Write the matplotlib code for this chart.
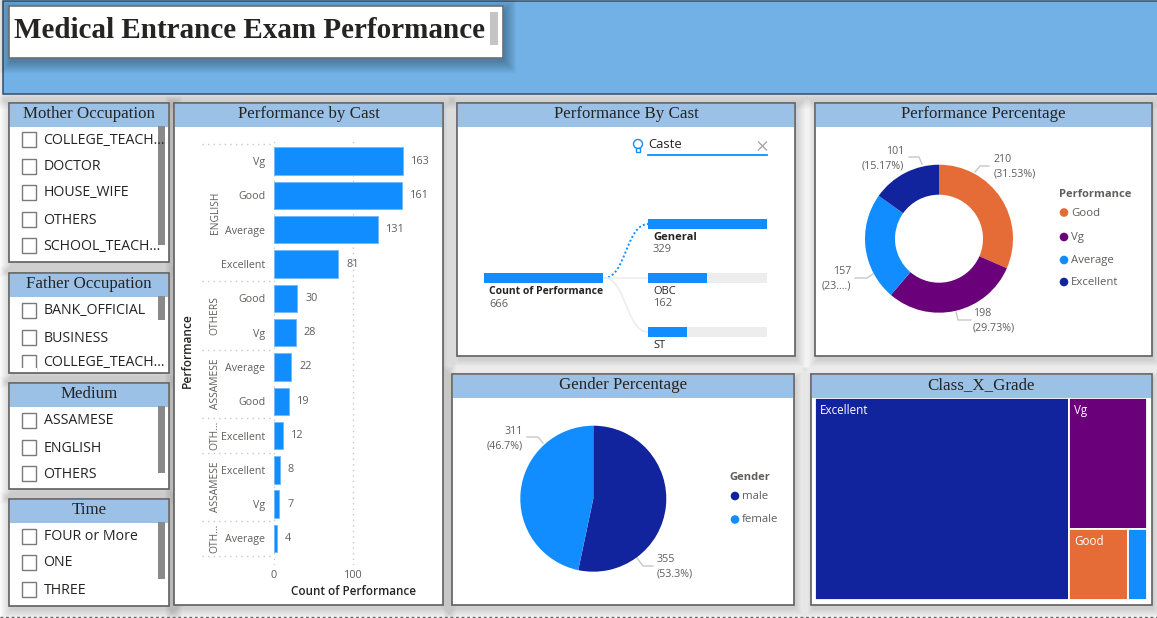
import matplotlib
matplotlib.use('Agg')
import matplotlib.pyplot as plt
from matplotlib.patches import Rectangle, PathPatch, Circle
from matplotlib.path import Path

#####################  data  ####################
bar_labels = ['Vg', 'Good', 'Average', 'Excellent', 'Good', 'Vg', 'Average', 'Good',
              'Excellent', 'Excellent', 'Vg', 'Average']
bar_values = [163, 161, 131, 81, 30, 28, 22, 19, 12, 8, 7, 4]
group_names = ['ENGLISH', 'OTHERS', 'ASSAMESE', 'OTH...', 'ASSAMESE', 'OTH...']
group_sizes = [4, 2, 2, 1, 2, 1]

perf_labels = ['Good', 'Vg', 'Average', 'Excellent']
perf_values = [210, 198, 157, 101]
perf_text = ['(31.53%)', '(29.73%)', '(23....)', '(15.17%)']

gender_labels = ['male', 'female']
gender_values = [355, 311]
gender_text = ['(53.3%)', '(46.7%)']

caste_labels = ['General', 'OBC', 'ST']
caste_values = [329, 162, 108]
caste_shown = ['329', '162', '']
caste_total = 666

# Class_X_Grade, sizes estimated from the tile areas
grade_labels = ['Excellent', 'Vg', 'Good', '']
grade_values = [510, 101, 42, 13]

mother_items = ['COLLEGE_TEACH...', 'DOCTOR', 'HOUSE_WIFE', 'OTHERS', 'SCHOOL_TEACH...']
father_items = ['BANK_OFFICIAL', 'BUSINESS', 'COLLEGE_TEACH...']
medium_items = ['ASSAMESE', 'ENGLISH', 'OTHERS']
time_items = ['FOUR or More', 'ONE', 'THREE']

#####################  style  ####################
BLUE = '#118DFF'
NAVY = '#12239E'
ORANGE = '#E66C37'
PURPLE = '#6B007B'
HEADER = '#9BC2E6'
BANNER = '#71B1E5'
GRAY = '#605E5C'
DARK = '#252423'
EDGE = '#5F5F5F'
SERIF = 'Liberation Serif'
SANS = 'Open Sans'
W, H = 1157, 618

perf_colors = {'Good': ORANGE, 'Vg': PURPLE, 'Average': BLUE, 'Excellent': NAVY}
gender_colors = {'male': NAVY, 'female': BLUE}
grade_colors = [NAVY, PURPLE, ORANGE, BLUE]

fig = plt.figure(figsize=(W / 100, H / 100), dpi=100, facecolor='white')
base = fig.add_axes([0, 0, 1, 1])
base.set_xlim(0, W)
base.set_ylim(H, 0)
base.axis('off')


def px_axes(x0, y0, x1, y1):
    # axes from pixel box, y counted from the top
    a = fig.add_axes([x0 / W, 1 - y1 / H, (x1 - x0) / W, (y1 - y0) / H])
    a.patch.set_alpha(0)
    return a


def shadow(x0, y0, x1, y1, z=1, dark=0.016):
    for i in range(12):
        grow = 11 - i
        base.add_patch(Rectangle((x0 - grow + 2, y0 - grow + 4), x1 - x0 + 2 * grow,
                                 y1 - y0 + 2 * grow, fc='black', ec='none',
                                 alpha=dark, zorder=z))


def panel(x0, y0, x1, y1, title, head=23, size=12.2):
    shadow(x0, y0, x1, y1)
    base.add_patch(Rectangle((x0, y0), x1 - x0, y1 - y0, fc='white', ec=EDGE, lw=1.2, zorder=2))
    base.add_patch(Rectangle((x0 + 1, y0 + 1), x1 - x0 - 2, head, fc=HEADER, ec='none', zorder=2.1))
    base.text((x0 + x1) / 2, y0 + head / 2 - 0.5, title, family=SERIF, fontsize=size, color=DARK,
              ha='center', va='center', zorder=3)


def slicer(y0, y1, title, items, rows, bar_end):
    panel(9, y0, 169, y1, title)
    for item, cy in zip(items, rows):
        base.add_patch(Rectangle((21.5, cy - 7.5), 14.5, 15, fc='white', ec='#7A7A7A', lw=1, zorder=3))
        base.text(43.5, cy + 1, item, family=SANS, fontsize=10.2, color=DARK, ha='left', va='center', zorder=3.2)
    # rows that do not fit are cut off by the panel edge
    base.add_patch(Rectangle((20, y1 - 5), 17, 4, fc='white', ec='none', zorder=3.1))
    base.add_patch(Rectangle((157.5, y0 + 23), 7.5, bar_end - y0 - 23, fc='#8A8A8A', ec='none', zorder=3))


def leader(xs, ys):
    base.plot(xs, ys, color='#C8C8C8', lw=1, zorder=3)


#####################  banner  ####################
shadow(3, 1, 1157, 94, dark=0.012)
base.add_patch(Rectangle((3, 1), 1160, 93, fc=BANNER, ec='#2F4F6F', lw=1.1, zorder=2))
shadow(9, 6, 503, 58, z=2.2, dark=0.022)
base.add_patch(Rectangle((9, 6), 494, 52, fc='white', ec='#6F6F6F', lw=1.2, zorder=3))
base.add_patch(Rectangle((490, 12), 7.5, 33, fc='#C4C4C4', ec='none', zorder=3.1))
base.text(14.5, 30, 'Medical Entrance Exam Performance', family=SERIF, weight='bold', fontsize=21,
          color=DARK, ha='left', va='center', zorder=4)

#####################  slicers  ####################
slicer(103, 262, 'Mother Occupation', mother_items, [139, 166, 192, 219, 245], 245)
slicer(273, 373, 'Father Occupation', father_items, [310, 337, 362], 320)
slicer(383, 489, 'Medium', medium_items, [420, 447, 473], 473)
slicer(499, 606, 'Time', time_items, [536, 562, 589], 579)

#####################  bar chart  ####################
panel(174, 103, 443, 605, 'Performance by Cast')
ax = px_axes(273.5, 137, 433, 565)
ypos = [i + 0.5 for i in range(len(bar_values))]
ax.barh(ypos, bar_values, height=0.8, color=BLUE, edgecolor='#70B8FF', linewidth=0.6, zorder=3)
ax.set_xlim(0, 200)
ax.set_ylim(12.274, -0.204)
ax.set_xticks([0, 100])
ax.set_yticks(ypos)
ax.set_yticklabels(bar_labels, family=SANS, fontsize=7.7, color=GRAY)
ax.tick_params(axis='both', length=0)
ax.tick_params(axis='y', pad=6)
ax.tick_params(axis='x', pad=3.5, labelsize=7.8, labelcolor=GRAY)
for t in ax.get_xticklabels():
    t.set_family(SANS)
ax.xaxis.grid(True, color='#C8C8C8', linestyle=(0, (1, 3)), lw=1)
ax.set_axisbelow(True)
for s in ax.spines.values():
    s.set_visible(False)
ax.set_xlabel('Count of Performance', family=SANS, weight='semibold', fontsize=8.4, color=DARK, labelpad=3)
ax.set_ylabel('Performance', family=SANS, weight='semibold', fontsize=8.6, color=DARK)
ax.yaxis.set_label_coords(-0.5, 0.5)
for y, v in zip(ypos, bar_values):
    ax.text(v + 10, y, str(v), family=SANS, fontsize=7.8, color=GRAY, ha='left', va='center')
# group brackets left of the tick labels
tr = ax.get_yaxis_transform()
start = 0
ax.plot([-0.448, -0.005], [0, 0], transform=tr, color='#C8C8C8', ls=(0, (1, 3)), lw=1, clip_on=False)
for name, n in zip(group_names, group_sizes):
    ax.plot([-0.448, -0.005], [start + n, start + n], transform=tr, color='#C8C8C8', ls=(0, (1, 3)), lw=1, clip_on=False)
    ax.text(-0.366, start + n / 2, name, transform=tr, rotation=90, family=SANS, fontsize=7.4, color=GRAY,
            ha='center', va='center', clip_on=False)
    start += n

#####################  decomposition tree  ####################
panel(457, 103, 795, 356, 'Performance By Cast')
tree = px_axes(457, 103, 795, 356)
tree.set_xlim(457, 795)
tree.set_ylim(356, 103)
tree.axis('off')
scale = 119 / max(caste_values)
tree.barh(278, caste_values[0] * scale, height=9.5, left=484, color=BLUE, zorder=3)
tree.text(489, 291.5, 'Count of Performance', family=SANS, weight='bold', fontsize=7.5, color=DARK, va='center')
tree.text(489, 304.5, str(caste_total), family=SANS, fontsize=8, color=GRAY, va='center')
cy = [224, 278, 332]
for i, (name, val, shown) in enumerate(zip(caste_labels, caste_values, caste_shown)):
    tree.barh(cy[i], 119, height=9.5, left=648, color='#EDEDED', zorder=2)
    tree.barh(cy[i], val * scale, height=9.5, left=648, color=BLUE, zorder=3)
    tree.text(653, cy[i] + 13.5, name, family=SANS, fontsize=8, color=DARK, va='center',
              weight='bold' if i == 0 else 'normal')
    if shown:
        tree.text(653, cy[i] + 26, shown, family=SANS, fontsize=8, color=GRAY, va='center')
    curve = Path([(604, 278), (626, 278), (626, cy[i]), (648, cy[i])],
                 [Path.MOVETO, Path.CURVE4, Path.CURVE4, Path.CURVE4])
    if i == 0:
        tree.add_patch(PathPatch(curve, fc='none', ec=BLUE, lw=1.4, ls=(0, (1, 1.2)), zorder=1))
    else:
        tree.add_patch(PathPatch(curve, fc='none', ec='#EDEDED', lw=1.2, zorder=1))
tree.text(648, 145, 'Caste', family=SANS, fontsize=9.4, color=DARK, va='center')
tree.plot([648, 767], [155, 155], color=BLUE, lw=1.3)
tree.plot([758.5, 766.5], [142, 150], color='#A6A6A6', lw=1)
tree.plot([758.5, 766.5], [150, 142], color='#A6A6A6', lw=1)
tree.add_patch(Circle((638, 144), 4.5, fc='white', ec=BLUE, lw=1))
tree.add_patch(Rectangle((636, 148), 4, 3.5, fc='white', ec=BLUE, lw=1))

#####################  donut  ####################
panel(815, 103, 1152, 356, 'Performance Percentage')
donut = px_axes(939 - 74, 238.7 - 74, 939 + 74, 238.7 + 74)
donut.pie(perf_values, colors=[perf_colors[k] for k in perf_labels], startangle=90, counterclock=False,
          radius=1, wedgeprops={'width': 30 / 74, 'linewidth': 0})
donut.set_xlim(-1, 1)
donut.set_ylim(-1, 1)

leader([975, 980, 989], [172, 166, 166])
leader([956, 958, 971], [312, 320, 320])
leader([855, 867, 873], [278, 278, 274])
leader([909, 919, 922], [157, 157, 164])
perf_pos = [(994, 159, 'left'), (973, 313, 'left'), (851, 272, 'right'), (904.5, 151, 'right')]
for v, txt, (x, y, ha) in zip(perf_values, perf_text, perf_pos):
    base.text(x, y, str(v), family=SANS, fontsize=7.7, color=GRAY, ha=ha, va='center', zorder=4)
    base.text(x, y + 14.5, txt, family=SANS, fontsize=7.7, color=GRAY, ha=ha, va='center', zorder=4)
base.text(1059, 194.5, 'Performance', family=SANS, weight='bold', fontsize=8, color=GRAY, va='center', zorder=4)
for k, y in zip(perf_labels, [212.5, 237, 260, 282]):
    base.add_patch(Circle((1064, y), 4.3, fc=perf_colors[k], ec='none', zorder=4))
    base.text(1071, y + 0.5, k, family=SANS, fontsize=8.2, color=GRAY, va='center', zorder=4)

#####################  gender pie  ####################
panel(452, 374, 794, 605, 'Gender Percentage')
pie = px_axes(593.3 - 73, 498.7 - 73, 593.3 + 73, 498.7 + 73)
pie.pie(gender_values, colors=[gender_colors[k] for k in gender_labels], startangle=90, counterclock=False,
        radius=1, wedgeprops={'linewidth': 0})
pie.set_xlim(-1, 1)
pie.set_ylim(-1, 1)
leader([637, 643, 653], [558, 566, 566])
leader([527, 538, 543], [437, 437, 443])
gender_pos = [(656.7, 559, 'left'), (523, 431, 'right')]
for v, txt, (x, y, ha) in zip(gender_values, gender_text, gender_pos):
    base.text(x, y, str(v), family=SANS, fontsize=7.7, color=GRAY, ha=ha, va='center', zorder=4)
    base.text(x, y + 14.5, txt, family=SANS, fontsize=7.7, color=GRAY, ha=ha, va='center', zorder=4)
base.text(729, 477.5, 'Gender', family=SANS, weight='bold', fontsize=8, color=GRAY, va='center', zorder=4)
for k, y in zip(gender_labels, [496, 519.5]):
    base.add_patch(Circle((735, y), 4.3, fc=gender_colors[k], ec='none', zorder=4))
    base.text(742, y + 0.5, k, family=SANS, fontsize=8.2, color=GRAY, va='center', zorder=4)

#####################  treemap  ####################
panel(811, 374, 1152, 605, 'Class_X_Grade')
tm = px_axes(815.3, 397.7, 1146.7, 600)
tm.set_xlim(0, 1)
tm.set_ylim(1, 0)
tm.axis('off')
total = sum(grade_values)
right = total - grade_values[0]
low = grade_values[2] + grade_values[3]
w0 = grade_values[0] / total
h1 = grade_values[1] / right
w2 = grade_values[2] / low
tiles = [(0, 0, w0, 1),
         (w0, 0, 1 - w0, h1),
         (w0, h1, (1 - w0) * w2, 1 - h1),
         (w0 + (1 - w0) * w2, h1, (1 - w0) * (1 - w2), 1 - h1)]
for (x, y, tw, th), c, name in zip(tiles, grade_colors, grade_labels):
    tm.add_patch(Rectangle((x, y), tw, th, fc=c, ec='white', lw=1.3))
    if name:
        tm.annotate(name, (x, y), xytext=(3.4, -9), textcoords='offset points', family=SANS, fontsize=8.4,
                    color='white', ha='left', va='center')

# dotted page edge at the bottom
base.plot([0, W], [617, 617], color='#666666', lw=1, ls=(0, (2, 2)), zorder=5)

fig.savefig('out.png', dpi=100)
